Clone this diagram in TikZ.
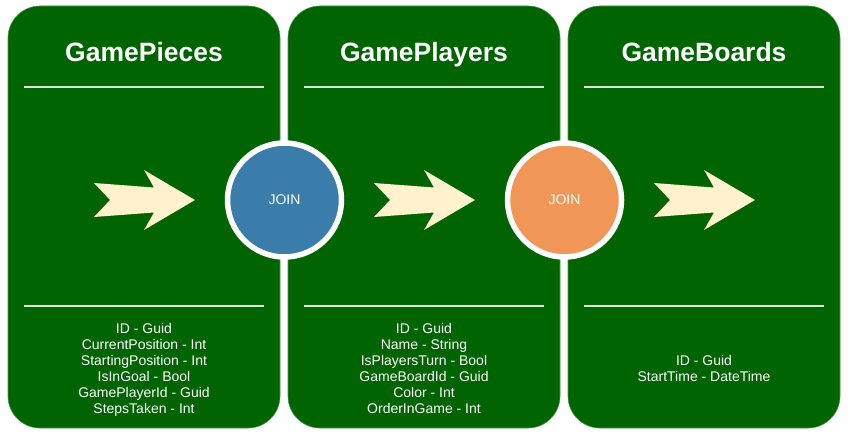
\documentclass[tikz,border=0pt]{standalone}
\usepackage{fontspec}
\setmainfont{Liberation Sans}
\usetikzlibrary{positioning}
\definecolor{panelgreen}{RGB}{0,100,0}
\definecolor{chevron}{RGB}{255,242,204}
\definecolor{joinblue}{RGB}{59,125,170}
\definecolor{joinorange}{RGB}{240,150,87}
\definecolor{rulegrey}{RGB}{220,228,220}

\begin{document}
\begin{tikzpicture}[x=1pt, y=-1pt,
  panel/.style={fill=panelgreen, draw=panelgreen!70!white, line width=0.6pt, rounded corners=32pt},
  title/.style={font=\fontsize{26.5}{30}\selectfont\bfseries, text=white, inner sep=0pt, anchor=base},
  rule/.style={draw=rulegrey, line width=2pt},
  fields/.style={font=\fontsize{14}{16}\selectfont, text=white, align=center, inner sep=0pt, anchor=north},
  chevronarrow/.style={fill=chevron},
  join/.style={circle, fill=#1, draw=white, line width=5.5pt, minimum size=114pt,
    font=\fontsize{14}{16}\selectfont, text=white, inner sep=0pt},
]
\useasboundingbox (0,0) rectangle (850,436);

% Panels
\foreach \i/\name/\top/\list in {
  0/GamePieces/323/{ID - Guid\\CurrentPosition - Int\\StartingPosition - Int\\IsInGoal - Bool\\GamePlayerId - Guid\\StepsTaken - Int},
  1/GamePlayers/323/{ID - Guid\\Name - String\\IsPlayersTurn - Bool\\GameBoardId - Guid\\Color - Int\\OrderInGame - Int},
  2/GameBoards/355/{ID - Guid\\StartTime - DateTime}} {
  \begin{scope}[xshift=\i*280pt]
    \path[panel] (8,6) rectangle (280,428);
    \node[title] (title\i) at (144,62) {\name};
    \draw[rule] (24,87) -- (264,87);
    \draw[rule] (24,306) -- (264,306);
    \node[fields] (fields\i) at (144,\top) {\list};
    % arrow
    \fill[chevronarrow] (94,183) -- (154,187.5) -- (144,170) -- (195,200)
      -- (144,230) -- (154,212.5) -- (94,217) -- (110,200) -- cycle;
  \end{scope}
}

% Joins
\node[join=joinblue] (join1) at (284.5,200) {JOIN};
\node[join=joinorange] (join2) at (564.5,200) {JOIN};
\end{tikzpicture}
\end{document}
